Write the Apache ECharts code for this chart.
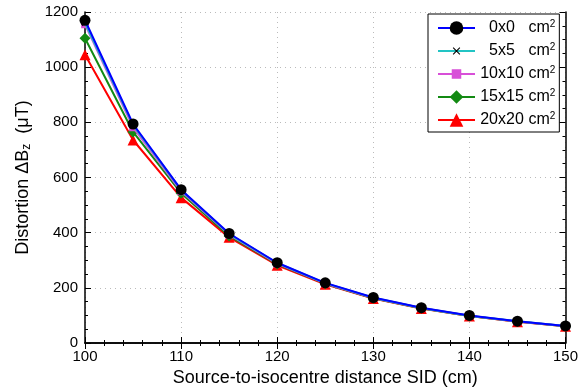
<!DOCTYPE html>
<html><head><meta charset="utf-8">
<script src="https://cdn.jsdelivr.net/npm/echarts@6/dist/echarts.min.js"></script>
<style>html,body{margin:0;padding:0;background:#fff}#c{width:581px;height:392px}</style>
</head><body><div id="c"></div>
<script>
const sid = [100, 105, 110, 115, 120, 125, 130, 135, 140, 145, 150];
const names = ['0x0', '5x5', '10x10', '15x15', '20x20'];
const f0 = [1170, 794, 556, 397, 291, 218, 165, 128, 100, 79, 62];
const f5 = [1160, 790, 554, 395, 290, 217, 164, 127, 99, 78.5, 62];
const f10 = [1155, 782, 550, 393, 288, 216, 163, 127, 99, 78, 61.5];
const f15 = [1105, 765, 543, 388, 286, 215, 162, 126, 98, 78, 61];
const f20 = [1045, 736, 527, 383, 282, 213, 161, 125, 98, 77, 61];
const xTicks = [100, 110, 120, 130, 140, 150];
const yTicks = [0, 200, 400, 600, 800, 1000, 1200];

const FONT = 'Liberation Sans';
const corners = 'M0,0L0.01,0L0,0.01Z M20,20L19.99,20L20,19.99Z ';
const cross = 'path://' + corners +
  'M4.5,5.6L5.6,4.5L15.5,14.4L14.4,15.5Z M14.4,4.5L15.5,5.6L5.6,15.5L4.5,14.4Z';
const square = 'path://' + corners + 'M3,3L17,3L17,17L3,17Z';
const defs = [
  {data: f0, color: '#0000ff', symbol: 'circle', size: 11, mcol: '#000000'},
  {data: f5, color: '#22c4c4', symbol: cross, size: 12, mcol: '#000000'},
  {data: f10, color: '#d84fd8', symbol: square, size: 11, mcol: '#d84fd8'},
  {data: f15, color: '#138a13', symbol: 'diamond', size: 11, mcol: '#138a13'},
  {data: f20, color: '#ff0000', symbol: 'triangle', size: 11, mcol: '#ff0000'}
];
const series = defs.map((d, i) => ({
  name: names[i],
  type: 'line',
  data: sid.map((x, j) => [x, d.data[j]]),
  symbol: d.symbol,
  symbolSize: d.size,
  z: 10 - i,
  lineStyle: {color: d.color, width: 2},
  itemStyle: {color: d.mcol, borderColor: d.mcol, borderWidth: 0},
  color: d.color,
  emphasis: {disabled: true},
  animation: false
})).reverse();

const tick = {inside: true, length: 6, lineStyle: {color: '#000', width: 1}};
const line = {show: true, lineStyle: {color: '#000', width: 1.5}};

const chart = echarts.init(document.getElementById('c'));
chart.setOption({
  animation: false,
  backgroundColor: '#fff',
  textStyle: {fontFamily: FONT},
  grid: {left: 85, right: 14, top: 12, bottom: 44},
  legend: {
    data: names,
    orient: 'vertical',
    left: 428, top: 14,
    padding: [5, 4, 4, 9],
    itemGap: 6,
    itemWidth: 37, itemHeight: 17,
    backgroundColor: '#fff',
    borderColor: '#000', borderWidth: 1,
    formatter: n => `{n|${n}}{t| cm}{s|2}`,
    textStyle: {
      fontFamily: FONT, fontSize: 16, color: '#000',
      rich: {
        n: {fontFamily: FONT, fontSize: 16, width: 44, align: 'right', color: '#000'},
        t: {fontFamily: FONT, fontSize: 16, color: '#000'},
        s: {fontFamily: FONT, fontSize: 10, color: '#000', verticalAlign: 'top', padding: [0, 0, 8, 0]}
      }
    }
  },
  xAxis: [{
    type: 'value', min: 100, max: 150, interval: 10,
    name: 'Source-to-isocentre distance SID (cm)',
    nameLocation: 'middle', nameGap: 26,
    nameTextStyle: {fontFamily: FONT, fontSize: 18, color: '#000'},
    axisLabel: {fontFamily: FONT, fontSize: 15, color: '#000', margin: 6},
    splitLine: {show: true, lineStyle: {color: '#bbb', type: [1, 4], width: 1}},
    minorTick: {show: true, splitNumber: 5, length: 3, lineStyle: {color: '#000'}},
    axisLine: line, axisTick: tick
  }, {
    type: 'value', min: 100, max: 150, interval: 10, position: 'top',
    axisLabel: {show: false}, splitLine: {show: false},
    minorTick: {show: true, splitNumber: 5, length: 3, lineStyle: {color: '#000'}},
    axisLine: line, axisTick: tick
  }],
  yAxis: [{
    type: 'value', min: 0, max: 1200, interval: 200,
    name: '{a|Distortion ΔB}{b|z}{a|  (μT)}',
    nameLocation: 'middle', nameGap: 52, nameRotate: 90,
    nameTextStyle: {fontFamily: FONT, fontSize: 18, color: '#000',
      rich: {
        a: {fontFamily: FONT, fontSize: 18, color: '#000'},
        b: {fontFamily: FONT, fontSize: 12, color: '#000', verticalAlign: 'bottom', padding: [8, 0, 0, 0]}
      }},
    axisLabel: {fontFamily: FONT, fontSize: 15, color: '#000', margin: 7,
      formatter: v => String(v)},
    splitLine: {show: true, lineStyle: {color: '#bbb', type: [1, 4], width: 1}},
    minorTick: {show: true, splitNumber: 4, length: 3, lineStyle: {color: '#000'}},
    axisLine: line, axisTick: tick
  }, {
    type: 'value', min: 0, max: 1200, interval: 200, position: 'right',
    axisLabel: {show: false}, splitLine: {show: false},
    minorTick: {show: true, splitNumber: 4, length: 3, lineStyle: {color: '#000'}},
    axisLine: line, axisTick: tick
  }],
  series: series
});
</script></body></html>
